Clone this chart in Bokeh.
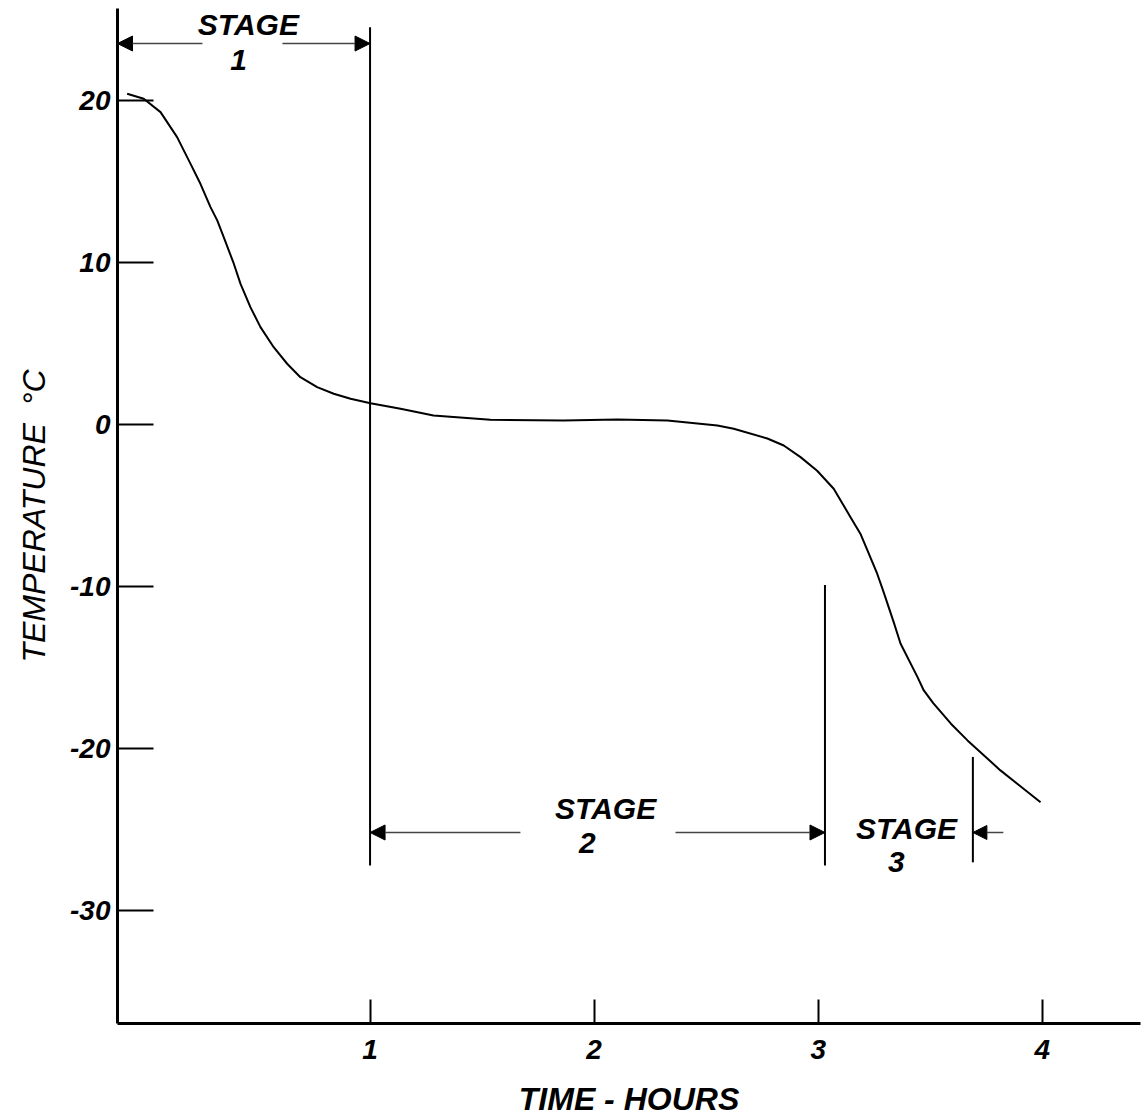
from bokeh.plotting import figure
from bokeh.models import Range1d, FixedTicker, Arrow, NormalHead, Label
from bokeh.embed import file_html
from bokeh.resources import INLINE

# Cooling curve: temperature (deg C) against elapsed time (hours)
time_h = [-0.084, -0.010, 0.065, 0.139, 0.199, 0.243, 0.288, 0.318, 0.347,
          0.392, 0.422, 0.466, 0.511, 0.570, 0.630, 0.689, 0.764, 0.838,
          0.913, 1.002, 1.136, 1.283, 1.537, 1.863, 2.104, 2.327, 2.550,
          2.623, 2.773, 2.846, 2.921, 2.995, 3.069, 3.144, 3.188, 3.220,
          3.263, 3.291, 3.337, 3.367, 3.443, 3.471, 3.514, 3.592, 3.666,
          3.813, 3.888, 3.992]
temp_c = [20.40, 20.09, 19.27, 17.73, 16.08, 14.85, 13.41, 12.59, 11.56,
          9.92, 8.68, 7.24, 6.01, 4.77, 3.75, 2.92, 2.31, 1.90,
          1.59, 1.32, 0.97, 0.56, 0.30, 0.25, 0.31, 0.25, -0.06,
          -0.26, -0.86, -1.29, -2.01, -2.85, -3.96, -5.71, -6.73, -7.77,
          -9.20, -10.30, -12.20, -13.50, -15.58, -16.40, -17.20, -18.45, -19.48,
          -21.33, -22.15, -23.29]

x_ticks = [1, 2, 3, 4]
y_ticks = [20, 10, 0, -10, -20, -30]

# Stage boundaries (hours): end of stage 1, end of stage 2, marker inside stage 3
stage_edges = [1.0, 3.03, 3.69]
stage_numbers = ["1", "2", "3"]

FONT = "Liberation Sans"

x0, x1 = -0.127, 4.438
p = figure(width=1144, height=1119, output_backend="svg", toolbar_location=None,
           x_range=Range1d(x0, x1), y_range=Range1d(-36.94, 25.66),
           min_border_left=117, min_border_right=4, min_border_top=8,
           min_border_bottom=96)
p.grid.visible = False
p.outline_line_color = None
p.background_fill_color = "white"
p.border_fill_color = "white"

for ax in (p.xaxis[0], p.yaxis[0]):
    ax.axis_line_width = 3
    ax.axis_line_color = "black"
    ax.major_tick_line_width = 2
    ax.major_tick_line_color = "black"
    ax.major_tick_out = 0
    ax.minor_tick_line_color = None
    ax.major_label_text_font = FONT
    ax.major_label_text_font_style = "bold italic"
    ax.major_label_text_font_size = "28px"
    ax.major_label_text_color = "black"
    ax.axis_label_text_font = FONT
    ax.axis_label_text_color = "black"

p.xaxis.ticker = FixedTicker(ticks=x_ticks)
p.xaxis.major_tick_in = 24
p.xaxis.major_label_standoff = 16
p.xaxis.major_label_overrides = {v: str(v) for v in x_ticks}
p.xaxis.axis_label = "TIME - HOURS"
p.xaxis.axis_label_text_font_style = "bold italic"
p.xaxis.axis_label_text_font_size = "32px"
p.xaxis.axis_label_standoff = 19

p.yaxis.ticker = FixedTicker(ticks=y_ticks)
p.yaxis.major_tick_in = 36
p.yaxis.major_label_standoff = 7
p.yaxis.major_label_orientation = "horizontal"
p.yaxis.major_label_overrides = {v: str(v) for v in y_ticks}
p.yaxis.axis_label = "TEMPERATURE\u00a0\u00a0°C"
p.yaxis.axis_label_text_font_style = "italic"
p.yaxis.axis_label_text_font_size = "32px"
p.yaxis.axis_label_standoff = 15

# temperature curve
p.line(time_h, temp_c, line_color="black", line_width=2, line_join="round")

# stage boundary lines
p.segment(x0=stage_edges, x1=stage_edges,
          y0=[24.5, -9.9, -20.5], y1=[-27.2, -27.2, -27.0],
          line_color="black", line_width=2)

# dimension arrows marking each stage
def dim_arrow(xs, xe, y, size=15):
    p.add_layout(Arrow(end=NormalHead(size=size, fill_color="black",
                                      line_color="black"),
                       x_start=xs, y_start=y, x_end=xe, y_end=y,
                       line_color="#444444", line_width=1.5))

y1_arrow, y2_arrow = 23.5, -25.16
dim_arrow(0.252, x0, y1_arrow)
dim_arrow(0.609, stage_edges[0], y1_arrow)
dim_arrow(1.671, stage_edges[0], y2_arrow)
dim_arrow(2.363, stage_edges[1], y2_arrow)
dim_arrow(3.826, stage_edges[2], y2_arrow, size=14)

def stage_text(x, y, txt):
    p.add_layout(Label(x=x, y=y, text=txt, text_font=FONT,
                       text_font_style="bold italic", text_font_size="30px",
                       text_align="center", text_baseline="middle",
                       text_color="black"))

stage_text(0.457, 24.65, "STAGE")
stage_text(0.413, 22.46, stage_numbers[0])
stage_text(2.051, -23.67, "STAGE")
stage_text(1.970, -25.83, stage_numbers[1])
stage_text(3.394, -24.90, "STAGE")
stage_text(3.349, -27.00, stage_numbers[2])

open("out.html", "w").write(file_html(p, INLINE))
